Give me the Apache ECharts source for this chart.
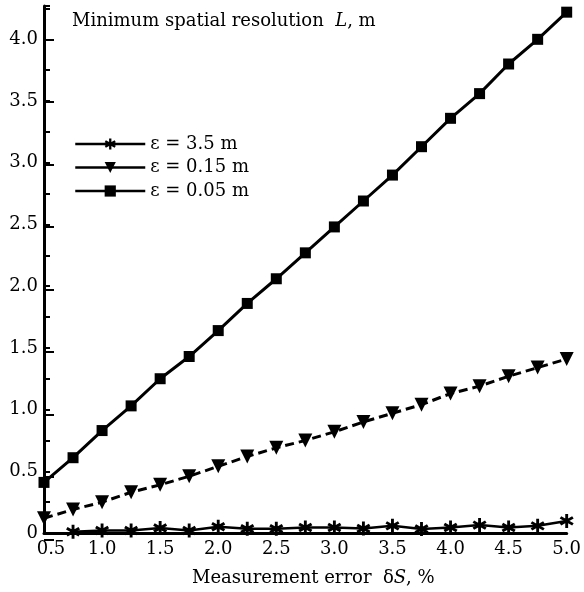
<!DOCTYPE html>
<html>
<head>
<meta charset="utf-8">
<script src="https://cdn.jsdelivr.net/npm/echarts@6/dist/echarts.min.js"></script>
<style>html,body{margin:0;padding:0;background:#fff}#c{width:584px;height:592px}</style>
</head>
<body>
<div id="c"></div>
<script>
// Measurement error δS, %
const xValues = [0.5,0.75,1.0,1.25,1.5,1.75,2.0,2.25,2.5,2.75,3.0,3.25,3.5,3.75,4.0,4.25,4.5,4.75,5.0];
// ε = 0.05 m
const eps005 = [0.41,0.61,0.83,1.03,1.25,1.43,1.64,1.86,2.06,2.27,2.48,2.69,2.90,3.13,3.36,3.56,3.80,4.00,4.22];
// ε = 0.15 m
const eps015 = [0.12,0.19,0.25,0.33,0.39,0.46,0.54,0.62,0.69,0.75,0.82,0.90,0.97,1.04,1.13,1.19,1.27,1.34,1.41];
// ε = 3.5 m (starts at 0.75)
const xStar = [0.75,1.0,1.25,1.5,1.75,2.0,2.25,2.5,2.75,3.0,3.25,3.5,3.75,4.0,4.25,4.5,4.75,5.0];
const eps35 = [0.01,0.02,0.02,0.04,0.02,0.05,0.035,0.035,0.045,0.045,0.037,0.058,0.032,0.045,0.064,0.045,0.058,0.098];
const seriesNames = ['ε = 3.5 m','ε = 0.15 m','ε = 0.05 m'];

const FONT = 'DejaVu Serif';
// six-armed asterisk, thick arms
const star = 'path://M8,0L12,0L12,20L8,20Z M0.27,13.27L17.59,3.27L19.73,6.73L2.41,16.73Z M2.41,3.27L19.73,13.27L17.59,16.73L0.27,6.73Z';
const pair = (xs, ys) => xs.map((x, i) => [x, ys[i]]);

const chart = echarts.init(document.getElementById('c'), null, {renderer: 'canvas'});
chart.setOption({
  backgroundColor: '#fff',
  animation: false,
  textStyle: {fontFamily: FONT, color: '#000'},
  title: {
    left: 67, top: 7,
    text: '{a|Minimum spatial resolution  }{i|L}{a|, m}',
    textStyle: {
      fontWeight: 'normal',
      rich: {
        a: {fontFamily: FONT, fontSize: 18, fontWeight: 'normal', color: '#000'},
        i: {fontFamily: FONT, fontSize: 18, fontWeight: 'normal', fontStyle: 'italic', color: '#000'}
      }
    }
  },
  legend: {
    orient: 'vertical', left: 69, top: 130,
    itemWidth: 70, itemHeight: 14, itemGap: 5.5,
    data: seriesNames,
    textStyle: {fontFamily: FONT, fontSize: 18, color: '#000', lineHeight: 18},
    lineStyle: {type: 'solid', width: 2.5, color: '#000'}
  },
  grid: [
    {left: 44, right: 14, top: 6, height: 533.5},
    {left: 44, right: 14, top: 39.5, height: 500}
  ],
  xAxis: [
    {
      type: 'value', gridIndex: 0, min: 0.5, max: 5.0, interval: 0.5,
      name: '{a|Measurement error  δ}{i|S}{a|, %}',
      nameLocation: 'middle', nameGap: 36,
      nameTextStyle: {
        padding: [0, 0, 0, 16],
        rich: {
          a: {fontFamily: FONT, fontSize: 18, color: '#000'},
          i: {fontFamily: FONT, fontSize: 18, fontStyle: 'italic', color: '#000'}
        }
      },
      axisLine: {show: true, lineStyle: {color: '#000', width: 3}},
      axisTick: {show: false},
      splitLine: {show: false},
      axisLabel: {
        margin: 7, fontFamily: FONT, fontSize: 18, color: '#000',
        formatter: v => (Math.abs(v - 0.5) < 1e-9 ? '{m|0.5}' : v.toFixed(1)),
        rich: {m: {fontFamily: FONT, fontSize: 18, color: '#000', padding: [0, 0, 0, 14]}}
      }
    },
    {type: 'value', gridIndex: 1, min: 0.5, max: 5.0, interval: 0.5, show: false}
  ],
  yAxis: [
    {
      type: 'value', gridIndex: 0, min: 0, max: 4.27, interval: 0.25,
      axisLine: {show: true, onZero: false, lineStyle: {color: '#000', width: 3}},
      axisTick: {show: true, inside: true, length: 6, lineStyle: {color: '#000', width: 2}},
      splitLine: {show: false},
      axisLabel: {
        margin: 6, fontFamily: FONT, fontSize: 18, color: '#000',
        formatter: v => {
          if (Math.abs(v * 2 - Math.round(v * 2)) > 1e-6) return '';
          return v === 0 ? '0' : v.toFixed(1);
        }
      }
    },
    {
      type: 'value', gridIndex: 1, min: 0, max: 4.0, interval: 0.5,
      axisLine: {show: false},
      axisTick: {show: true, inside: true, length: 10, lineStyle: {color: '#000', width: 2}},
      axisLabel: {show: false},
      splitLine: {show: false}
    }
  ],
  series: [
    {
      name: seriesNames[0], type: 'line', xAxisIndex: 0, yAxisIndex: 0,
      data: pair(xStar, eps35), clip: false,
      symbol: star, symbolSize: 14,
      itemStyle: {color: '#000'},
      lineStyle: {color: '#000', width: 2.5, type: 'solid'},
      z: 3
    },
    {
      name: seriesNames[1], type: 'line', xAxisIndex: 0, yAxisIndex: 0,
      data: pair(xValues, eps015), clip: false,
      symbol: 'triangle', symbolSize: 14, symbolRotate: 180,
      itemStyle: {color: '#000'},
      lineStyle: {color: '#000', width: 3, type: [9, 5]},
      z: 3
    },
    {
      name: seriesNames[2], type: 'line', xAxisIndex: 0, yAxisIndex: 0,
      data: pair(xValues, eps005), clip: false,
      symbol: 'rect', symbolSize: 11,
      itemStyle: {color: '#000'},
      lineStyle: {color: '#000', width: 3, type: 'solid'},
      z: 3
    }
  ]
});
</script>
</body>
</html>
